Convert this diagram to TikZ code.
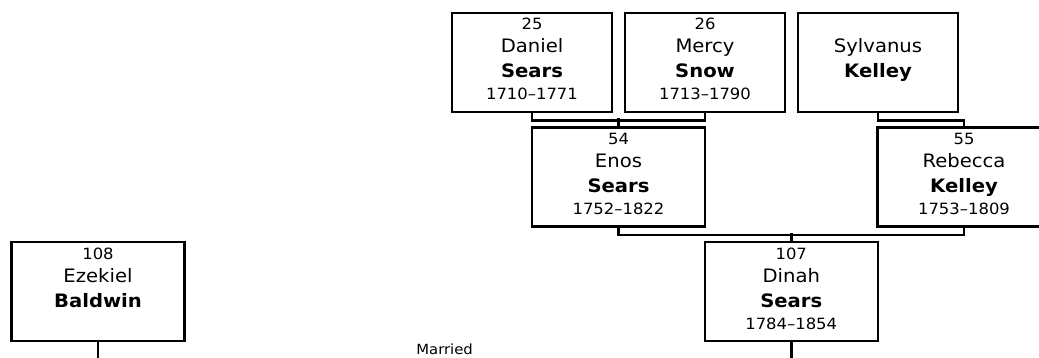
\documentclass[tikz,border=0pt]{standalone}
\usepackage{fontspec}
\setmainfont{DejaVu Sans}[FakeStretch=1.06]
\newcommand{\pnum}[1]{\rule{0pt}{17pt}{\fontsize{15.5}{17}\selectfont #1}}
\newcommand{\pyrs}[1]{{\fontsize{15.5}{17}\selectfont #1}\rule[-12pt]{0pt}{12pt}}
\begin{document}
\begin{tikzpicture}[x=1pt, y=-1pt, line width=2.5pt,
  pbox/.style={draw, rectangle, inner xsep=0pt, inner ysep=0pt, align=center,
    font=\fontsize{18.5}{24}\selectfont, minimum height=99pt},
  gen1/.style={pbox, minimum width=160pt},
  gen2/.style={pbox, minimum width=173pt}]
\useasboundingbox (0,0) rectangle (1039,358);
\node[gen1] (daniel) at (532,62.5) {\pnum{25}\\[-1pt]Daniel\\[1pt]\textbf{Sears}\\[-2pt]\pyrs{1710--1771}};
\node[gen1] (mercy) at (705,62.5) {\pnum{26}\\[-1pt]Mercy\\[1pt]\textbf{Snow}\\[-2pt]\pyrs{1713--1790}};
\node[gen1] (sylvanus) at (878,62.5) {\pnum{}\\[-1pt]Sylvanus\\[1pt]\textbf{Kelley}\\[-2pt]\pyrs{}};
\node[gen2] (enos) at (618.5,177) {\pnum{54}\\[-1pt]Enos\\[1pt]\textbf{Sears}\\[-2pt]\pyrs{1752--1822}};
\node[gen2] (rebecca) at (964,177) {\pnum{55}\\[-1pt]Rebecca\\[1pt]\textbf{Kelley}\\[-2pt]\pyrs{1753--1809}};
\node[gen2] (dinah) at (791.25,291.5) {\pnum{107}\\[-1pt]Dinah\\[1pt]\textbf{Sears}\\[-2pt]\pyrs{1784--1854}};
\node[gen2] (ezekiel) at (98,291.5) {\pnum{108}\\[-1pt]Ezekiel\\[1pt]\textbf{Baldwin}\\[-2pt]\pyrs{}};
\draw (daniel.south) -- ++(0,7.5) -| (mercy.south);
\draw (enos.north) -- ++(0,-8);
\draw (sylvanus.south) -- ++(0,7.5) -| (rebecca.north);
\draw (enos.south) -- ++(0,7.5) -| (rebecca.south);
\draw (dinah.north) -- ++(0,-7.5);
\draw (ezekiel.south) -- ++(0,21) -| node[pos=0.25, above=3.7pt, font=\fontsize{14}{15}\selectfont] (married) {Married} (dinah.south);
\end{tikzpicture}
\end{document}
